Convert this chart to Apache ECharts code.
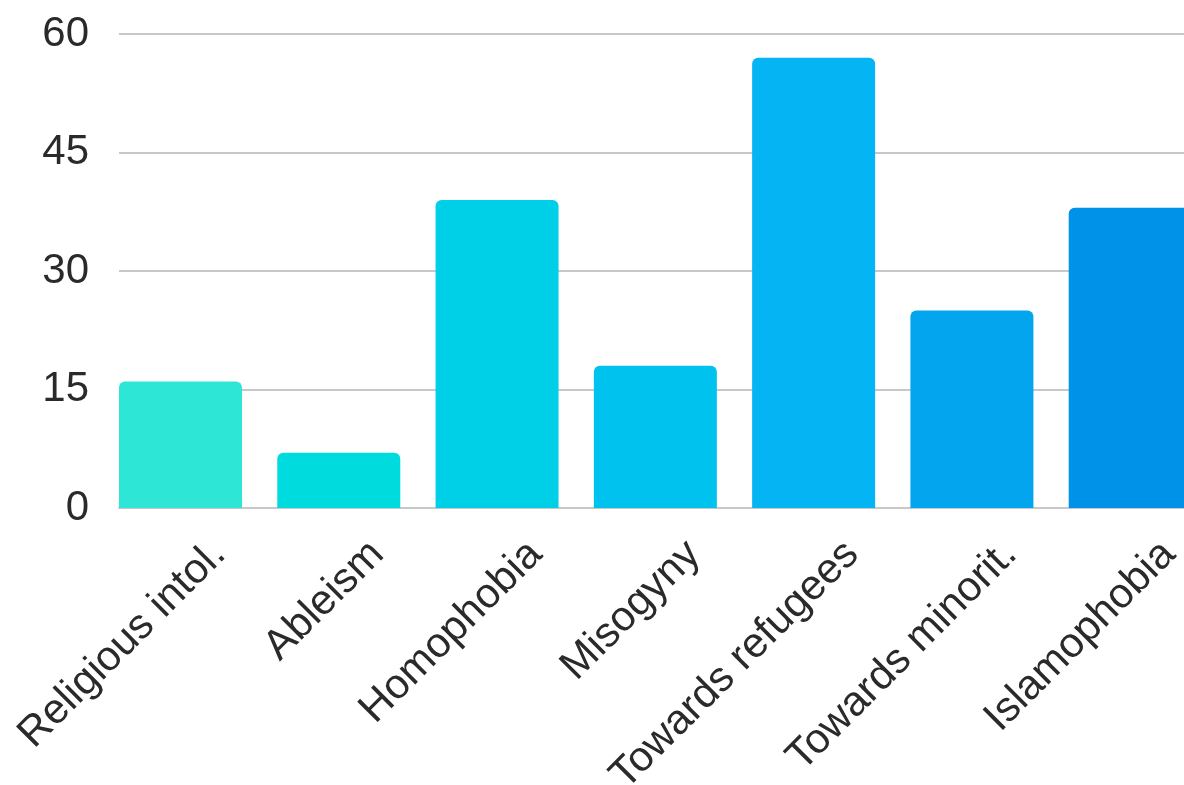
<!DOCTYPE html>
<html>
<head>
<meta charset="utf-8">
<script src="https://cdn.jsdelivr.net/npm/echarts@6/dist/echarts.min.js"></script>
<style>
html,body{margin:0;padding:0;background:#fff;overflow:hidden;width:1184px;height:785px;}
#chart{width:1300px;height:785px;}
</style>
</head>
<body>
<div id="chart"></div>
<script>
const categories = ["Religious intol.", "Ableism", "Homophobia", "Misogyny", "Towards refugees", "Towards minorit.", "Islamophobia"];
const values = [16, 7, 39, 18, 57, 25, 38];
const barColors = ["#2EE6D6", "#00DBDE", "#00CFE8", "#00C2EE", "#05B4F2", "#03A6EE", "#0092E8"];
const yTicks = [0, 15, 30, 45, 60];

const chart = echarts.init(document.getElementById('chart'), null, {renderer: 'canvas'});
chart.setOption({
  animation: false,
  backgroundColor: '#ffffff',
  grid: {left: 119, top: 34, width: 1108, height: 474, containLabel: false, outerBoundsMode: 'none'},
  xAxis: {
    type: 'category',
    data: categories,
    boundaryGap: true,
    axisLine: {show: true, lineStyle: {color: '#c8c8c8', width: 2}},
    axisTick: {show: false},
    axisLabel: {
      interval: 0, rotate: 45, margin: 19, verticalAlign: 'top', lineHeight: 59, hideOverlap: false,
      color: '#2a2a2a', fontSize: 42, fontFamily: 'Liberation Sans, Arial, sans-serif'
    }
  },
  yAxis: {
    type: 'value',
    min: yTicks[0], max: yTicks[yTicks.length - 1], interval: 15,
    axisLine: {show: false},
    axisTick: {show: false},
    splitLine: {lineStyle: {color: '#c8c8c8', width: 2}},
    axisLabel: {
      margin: 30, color: '#2a2a2a', fontSize: 42,
      fontFamily: 'Liberation Sans, Arial, sans-serif'
    }
  },
  series: [
    {
      type: 'bar',
      barWidth: 123,
      barGap: '0%',
      data: values.map((v, i) => ({value: v, itemStyle: {color: barColors[i]}})),
      itemStyle: {borderRadius: [6, 6, 0, 0]}
    },
    {
      type: 'bar',
      barWidth: 35.3,
      barGap: '0%',
      data: values.map(() => '-'),
      silent: true
    }
  ]
});
</script>
</body>
</html>
